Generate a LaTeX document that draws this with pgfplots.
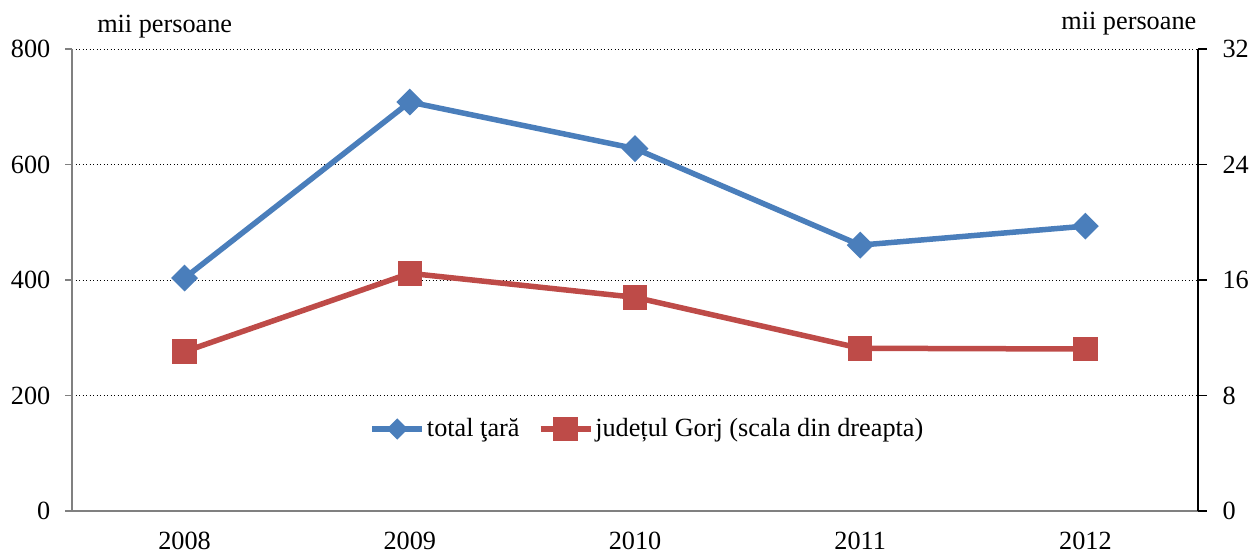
\documentclass[border=0pt]{standalone}
\usepackage{fontspec}
\setmainfont{Liberation Serif}
\usepackage{pgfplots}
\pgfplotsset{compat=1.18}
\definecolor{cblue}{HTML}{4A7EBB}
\definecolor{cred}{HTML}{BE4B48}
\definecolor{agrey}{HTML}{808080}
\begin{document}
\fontsize{10.5pt}{12.6pt}\selectfont
\begin{tikzpicture}
\useasboundingbox (0,0) rectangle (500pt,221.6pt);
\pgfplotsset{
  common/.style={
    at={(28.8pt,17.2pt)}, anchor=south west,
    scale only axis, width=450.4pt, height=184.8pt,
    xmin=-0.5, xmax=4.5,
    tick align=outside,
    /pgf/number format/assume math mode=true,
    tick label style={font=\fontsize{10.5pt}{12.6pt}\selectfont},
    major tick length=2.8pt,
  }
}
\begin{axis}[common,
  ymin=0, ymax=800, ytick={0,200,...,800},
  axis x line*=bottom, axis y line*=left,
  x axis line style={agrey, line width=0.8pt},
  y axis line style={agrey, line width=0.6pt},
  xtick={0,1,2,3,4},
  xticklabels={2008,2009,2010,2011,2012},
  xtick style={draw=none},
  minor xtick={-0.5,0.5,1.5,2.5,3.5,4.5},
  minor tick length=3pt,
  minor x tick style={black, line width=0.4pt},
  ytick style={agrey, line width=0.5pt},
  ymajorgrids, grid style={black, densely dotted, line width=0.35pt},
  yticklabel style={xshift=-2.2pt},
  xticklabel style={yshift=-1.8pt},
]
\addplot[cblue, line width=2.2pt, mark=square*, mark size=2.7pt, mark options={rotate=45, solid}]
  coordinates {(0,403.4) (1,708.2) (2,627.6) (3,460.4) (4,493.3)};
\end{axis}
\begin{axis}[common,
  ymin=0, ymax=32, ytick={0,8,...,32},
  axis x line=none, axis y line*=right,
  y axis line style={black, line width=0.5pt},
  ytick style={black, line width=0.5pt},
  major tick length=3.5pt,
  yticklabel style={xshift=2.6pt},
  legend columns=2,
  legend style={at={(0.511,0.1775)}, anchor=center, draw=none, fill=none,
    font=\fontsize{10.5pt}{12.6pt}\selectfont,
    /tikz/every even column/.append style={column sep=6.5pt},
    nodes={inner sep=0.8pt}},
  legend image code/.code={
    \draw[#1, mark repeat=2, mark phase=2] plot coordinates {(0pt,0pt) (10pt,0pt) (20pt,0pt)};},
]
\addlegendimage{cblue, line width=2.2pt, mark=square*, mark size=1.9pt, mark options={rotate=45, solid}}
\addlegendentry{total ţară}
\addplot[cred, line width=2.2pt, mark=square*, mark size=3.8pt, mark options={solid}]
  coordinates {(0,11.04) (1,16.46) (2,14.80) (3,11.27) (4,11.22)};
\addlegendentry{județul Gorj (scala din dreapta)}
\end{axis}
\node[anchor=base west, inner sep=0pt] at (38.7pt,208.4pt) {mii persoane};
\node[anchor=base east, inner sep=0pt] at (478.7pt,209.6pt) {mii persoane};
\end{tikzpicture}
\end{document}
